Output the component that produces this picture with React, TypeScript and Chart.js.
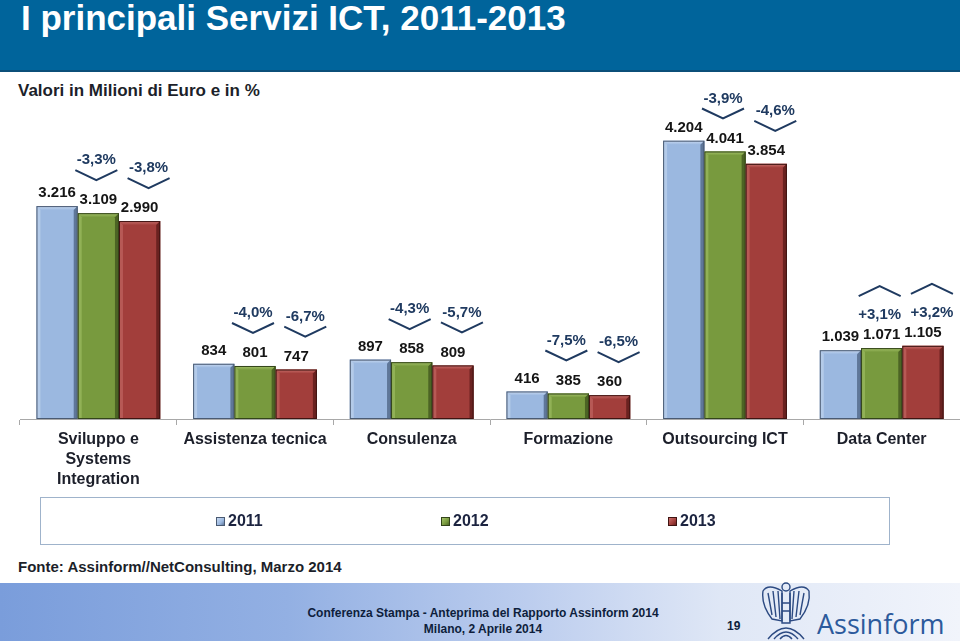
import { useEffect, useRef } from 'react';
import { Chart, registerables } from 'chart.js';

Chart.register(...registerables);

// ---------- data ----------
const categories: (string | string[])[] = [
  ['Sviluppo e', 'Systems', 'Integration'],
  'Assistenza tecnica',
  'Consulenza',
  'Formazione',
  'Outsourcing ICT',
  'Data Center',
];
const years = ['2011', '2012', '2013'];
const values2011 = [3216, 834, 897, 416, 4204, 1039];
const values2012 = [3109, 801, 858, 385, 4041, 1071];
const values2013 = [2990, 747, 809, 360, 3854, 1105];
const change2011to2012 = ['-3,3%', '-4,0%', '-4,3%', '-7,5%', '-3,9%', '+3,1%'];
const change2012to2013 = ['-3,8%', '-6,7%', '-5,7%', '-6,5%', '-4,6%', '+3,2%'];

// ---------- styles ----------
const FONT = '"Liberation Sans", Arial, Helvetica, sans-serif';
const seriesColors = [
  { base: '#9BB8E0', light: '#C9DAF1', dark: '#5F7799', edge: '#4A5A72' },
  { base: '#789A3E', light: '#A6C46A', dark: '#4C6424', edge: '#33441A' },
  { base: '#A23E3B', light: '#C9706C', dark: '#6A2220', edge: '#3F1412' },
];
const NAVY = '#1F3A60';

const fmt = (v: number) => String(v).replace(/\B(?=(\d{3})+(?!\d))/g, '.');

const bevelPlugin = {
  id: 'bevel',
  afterDatasetsDraw(chart: any) {
    const ctx = chart.ctx as CanvasRenderingContext2D;
    ctx.save();
    chart.data.datasets.forEach((_ds: any, di: number) => {
      const meta = chart.getDatasetMeta(di);
      const c = seriesColors[di];
      meta.data.forEach((bar: any) => {
        const { x, y, base, width } = bar.getProps(['x', 'y', 'base', 'width'], true);
        const l = x - width / 2;
        const r = x + width / 2;
        const t = y;
        const b = base;
        const bv = 4;
        const gTop = ctx.createLinearGradient(0, t, 0, t + bv);
        gTop.addColorStop(0, c.light);
        gTop.addColorStop(1, c.base);
        ctx.fillStyle = gTop;
        ctx.beginPath();
        ctx.moveTo(l, t);
        ctx.lineTo(r, t);
        ctx.lineTo(r - bv, t + bv);
        ctx.lineTo(l + bv, t + bv);
        ctx.closePath();
        ctx.fill();
        ctx.fillStyle = c.light;
        ctx.globalAlpha = 0.55;
        ctx.beginPath();
        ctx.moveTo(l, t);
        ctx.lineTo(l + bv, t + bv);
        ctx.lineTo(l + bv, b);
        ctx.lineTo(l, b);
        ctx.closePath();
        ctx.fill();
        ctx.globalAlpha = 1;
        ctx.fillStyle = c.dark;
        ctx.beginPath();
        ctx.moveTo(r, t);
        ctx.lineTo(r, b);
        ctx.lineTo(r - bv, b);
        ctx.lineTo(r - bv, t + bv);
        ctx.closePath();
        ctx.fill();
        ctx.strokeStyle = c.edge;
        ctx.lineWidth = 1;
        ctx.strokeRect(l + 0.5, t + 0.5, width - 1, b - t - 1);
      });
    });

    // value labels
    ctx.font = `bold 15px ${FONT}`;
    ctx.fillStyle = '#151515';
    ctx.textAlign = 'center';
    ctx.textBaseline = 'middle';
    chart.data.datasets.forEach((ds: any, di: number) => {
      const meta = chart.getDatasetMeta(di);
      meta.data.forEach((bar: any, i: number) => {
        ctx.fillText(fmt(ds.data[i]), bar.x, bar.y - 13);
      });
    });

    // percentage changes with chevrons
    const changes = [change2011to2012, change2012to2013];
    const shifts = [-2, 9];
    changes.forEach((arr, k) => {
      const meta = chart.getDatasetMeta(k + 1);
      arr.forEach((txt, i) => {
        const bar = meta.data[i];
        const ly = bar.y - 13;
        const tx = bar.x + shifts[k];
        const up = txt.startsWith('+');
        const ty = up ? ly - 20 : ly - 40;
        ctx.fillStyle = NAVY;
        ctx.font = `bold 15px ${FONT}`;
        ctx.fillText(txt, tx, ty);
        ctx.strokeStyle = NAVY;
        ctx.lineWidth = 2;
        ctx.beginPath();
        if (up) {
          ctx.moveTo(tx - 21, ty - 19);
          ctx.lineTo(tx, ty - 29);
          ctx.lineTo(tx + 21, ty - 19);
        } else {
          ctx.moveTo(tx - 21, ty + 10);
          ctx.lineTo(tx, ty + 20);
          ctx.lineTo(tx + 21, ty + 10);
        }
        ctx.stroke();
      });
    });
    ctx.restore();
  },
};

function ChartCanvas() {
  const ref = useRef<HTMLCanvasElement | null>(null);
  useEffect(() => {
    if (!ref.current) return;
    const series = [values2011, values2012, values2013];
    const chart = new Chart(ref.current, {
      type: 'bar',
      data: {
        labels: categories,
        datasets: years.map((yr, i) => ({
          label: yr,
          data: series[i],
          backgroundColor: seriesColors[i].base,
          borderWidth: 0,
          barPercentage: 1,
          categoryPercentage: 0.79,
        })),
      },
      options: {
        animation: false,
        responsive: false,
        layout: { padding: { left: 20, right: 0, top: 8, bottom: 5 } },
        plugins: { legend: { display: false }, tooltip: { enabled: false } },
        scales: {
          x: {
            grid: {
              offset: true,
              drawOnChartArea: false,
              drawTicks: true,
              tickLength: 6,
              color: '#A8A8A8',
            },
            border: { display: true, color: '#A8A8A8', width: 1 },
            ticks: {
              color: '#1C1F2A',
              font: { family: FONT, size: 16, weight: 'bold', lineHeight: 1.25 },
              padding: 5,
              maxRotation: 0,
              autoSkip: false,
            },
          },
          y: { display: false, min: 0, max: 5000 },
        },
      },
      plugins: [bevelPlugin],
    } as any);
    return () => chart.destroy();
  }, []);
  return <canvas ref={ref} width={960} height={420} style={{ display: 'block' }} />;
}

function Logo() {
  return (
    <svg width={52} height={62} viewBox="0 0 52 62" style={{ position: 'absolute', left: 760, top: 579 }}>
      <g fill="none" stroke="#2C4A82" strokeWidth={1.4}>
        <circle cx={26} cy={8} r={4} />
        <path d="M22 12 Q8 4 3 12 Q1 26 12 40 L22 42 Z" />
        <path d="M30 12 Q44 4 49 12 Q51 26 40 40 L30 42 Z" />
        <path d="M8 14 L12 36 M13 12 L16 38 M18 12 L20 40" />
        <path d="M44 14 L40 36 M39 12 L36 38 M34 12 L32 40" />
        <path d="M22 14 L22 44 L30 44 L30 14" />
        <path d="M22 24 L30 24 M22 32 L30 32" />
        <path d="M8 60 Q26 38 44 60" />
        <path d="M14 60 Q26 46 38 60" />
        <path d="M20 60 Q26 53 32 60" />
      </g>
    </svg>
  );
}

export default function App() {
  const legendX = [216, 441, 668];
  return (
    <div
      style={{
        position: 'absolute',
        left: 0,
        top: 0,
        width: 960,
        height: 641,
        overflow: 'hidden',
        background: '#FFFFFF',
        fontFamily: FONT,
      }}
    >
      <div
        style={{
          position: 'absolute',
          left: 0,
          top: 0,
          width: 960,
          height: 70,
          background: '#00649B',
          borderBottom: '2px solid #0B4F79',
        }}
      />
      <div
        style={{
          position: 'absolute',
          left: 21,
          top: -2,
          color: '#FFFFFF',
          fontSize: 35,
          fontWeight: 'bold',
          lineHeight: '40px',
          whiteSpace: 'nowrap',
        }}
      >
        I principali Servizi ICT, 2011-2013
      </div>
      <div
        style={{
          position: 'absolute',
          left: 18,
          top: 81,
          color: '#1C1F2A',
          fontSize: 17,
          fontWeight: 'bold',
          lineHeight: '20px',
          whiteSpace: 'nowrap',
        }}
      >
        Valori in Milioni di Euro e in %
      </div>

      <div style={{ position: 'absolute', left: 0, top: 80, width: 960, height: 420 }}>
        <ChartCanvas />
      </div>

      <div
        style={{
          position: 'absolute',
          left: 40,
          top: 497,
          width: 848,
          height: 46,
          border: '1.5px solid #9FB3CB',
        }}
      />
      {years.map((yr, i) => (
        <div
          key={yr}
          style={{
            position: 'absolute',
            left: legendX[i],
            top: 511,
            height: 20,
            display: 'flex',
            alignItems: 'center',
            whiteSpace: 'nowrap',
          }}
        >
          <span
            style={{
              display: 'inline-block',
              width: 7,
              height: 7,
              background: `linear-gradient(135deg, ${seriesColors[i].light}, ${seriesColors[i].base} 60%, ${seriesColors[i].dark})`,
              border: `1px solid ${seriesColors[i].edge}`,
              marginRight: 3,
            }}
          />
          <span style={{ fontSize: 16, fontWeight: 'bold', color: '#1C2440' }}>{yr}</span>
        </div>
      ))}

      <div
        style={{
          position: 'absolute',
          left: 18,
          top: 558,
          fontSize: 15,
          fontWeight: 'bold',
          color: '#1C1F2A',
          whiteSpace: 'nowrap',
        }}
      >
        Fonte: Assinform//NetConsulting, Marzo 2014
      </div>

      <div
        style={{
          position: 'absolute',
          left: 0,
          top: 583,
          width: 960,
          height: 58,
          background: 'linear-gradient(to right, #7A9DDB 0%, #93B0E3 30%, #BCCDEE 55%, #DFE7F6 75%, #F1F4FB 100%)',
        }}
      />
      <div
        style={{
          position: 'absolute',
          left: 283,
          top: 605,
          width: 400,
          textAlign: 'center',
          fontSize: 12,
          fontWeight: 'bold',
          lineHeight: '16px',
          color: '#0E1E3C',
        }}
      >
        Conferenza Stampa - Anteprima del Rapporto Assinform 2014
        <br />
        Milano, 2 Aprile 2014
      </div>
      <div
        style={{
          position: 'absolute',
          left: 727,
          top: 619,
          fontSize: 12,
          fontWeight: 'bold',
          color: '#0E1E3C',
        }}
      >
        19
      </div>
      <Logo />
      <div
        style={{
          position: 'absolute',
          left: 817,
          top: 606,
          fontSize: 27,
          fontFamily: '"Open Sans", Lato, sans-serif',
          color: '#2C5A9C',
          lineHeight: '36px',
          whiteSpace: 'nowrap',
        }}
      >
        Assinform
      </div>
    </div>
  );
}
